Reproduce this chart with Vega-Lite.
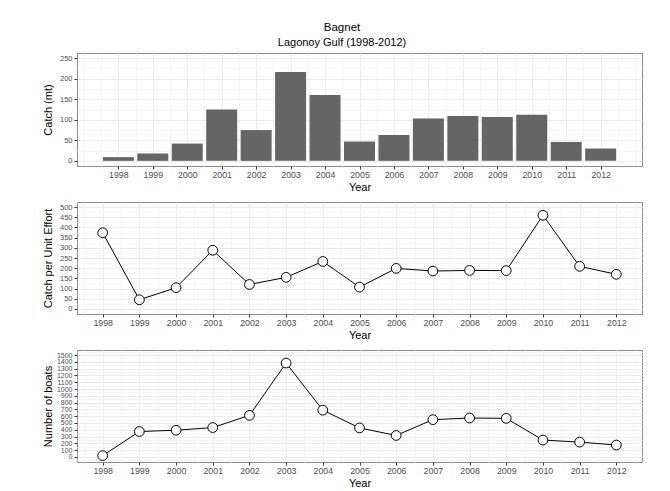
{
  "$schema": "https://vega.github.io/schema/vega-lite/v6.json",
  "padding": {"left": 41, "top": 22, "right": 5, "bottom": 0},
  "background": "white",
  "bounds": "flush",
  "config": {
    "font": "Liberation Sans",
    "view": {"stroke": "#8c8c8c", "strokeWidth": 1},
    "axis": {
      "domain": false,
      "tickColor": "#333333",
      "tickSize": 3,
      "labelColor": "#4d4d4d",
      "labelFontSize": 8.8,
      "titleFontSize": 11,
      "titleFontWeight": "normal",
      "titleColor": "#000000",
      "labelOverlap": false,
      "labelFlush": false
    },
    "title": {"fontSize": 11.5, "fontWeight": "normal", "subtitleFontSize": 11, "subtitleColor": "#000000", "color": "#000000", "subtitlePadding": 3, "offset": 5}
  },
  "title": {"text": "Bagnet", "subtitle": "Lagonoy Gulf (1998-2012)", "anchor": "middle"},
  "datasets": {
    "bagnet": [
      {"year": 1998, "catch": 9, "cpue": 374, "boats": 19},
      {"year": 1999, "catch": 18, "cpue": 45, "boats": 374},
      {"year": 2000, "catch": 42, "cpue": 104, "boats": 393},
      {"year": 2001, "catch": 125, "cpue": 288, "boats": 432},
      {"year": 2002, "catch": 75, "cpue": 120, "boats": 612},
      {"year": 2003, "catch": 216, "cpue": 155, "boats": 1383},
      {"year": 2004, "catch": 160, "cpue": 233, "boats": 689},
      {"year": 2005, "catch": 47, "cpue": 107, "boats": 427},
      {"year": 2006, "catch": 63, "cpue": 199, "boats": 316},
      {"year": 2007, "catch": 103, "cpue": 186, "boats": 549},
      {"year": 2008, "catch": 109, "cpue": 189, "boats": 573},
      {"year": 2009, "catch": 107, "cpue": 188, "boats": 568},
      {"year": 2010, "catch": 112, "cpue": 460, "boats": 248},
      {"year": 2011, "catch": 46, "cpue": 209, "boats": 218},
      {"year": 2012, "catch": 30, "cpue": 170, "boats": 175}
    ]
  },
  "spacing": 36,
  "vconcat": [
    {
      "width": 565,
      "height": 113,
      "data": {"name": "bagnet"},
      "mark": {"type": "bar", "width": 31, "color": "#656565"},
      "encoding": {
        "x": {
          "field": "year", "type": "quantitative",
          "scale": {"domain": [1996.8, 2013.2], "nice": false, "zero": false, "padding": 0},
          "axis": {
            "title": "Year",
            "values": [1997, 1997.5, 1998, 1998.5, 1999, 1999.5, 2000, 2000.5, 2001, 2001.5, 2002, 2002.5, 2003, 2003.5, 2004, 2004.5, 2005, 2005.5, 2006, 2006.5, 2007, 2007.5, 2008, 2008.5, 2009, 2009.5, 2010, 2010.5, 2011, 2011.5, 2012, 2012.5, 2013],
            "labelExpr": "(datum.value % 1 === 0 && datum.value >= 1998 && datum.value <= 2012) ? toString(datum.value) : ''",
            "gridColor": {"condition": {"test": "datum.value % 1 === 0 && datum.value >= 1998 && datum.value <= 2012", "value": "#ebebeb"}, "value": "#f5f5f5"},
            "tickOpacity": {"condition": {"test": "datum.value % 1 === 0 && datum.value >= 1998 && datum.value <= 2012", "value": 1}, "value": 0},
            "labelPadding": 1,
            "titlePadding": 3
          }
        },
        "y": {
          "field": "catch", "type": "quantitative",
          "scale": {"domain": [-12.5, 262.5], "nice": false, "zero": false, "padding": 0},
          "axis": {
            "title": "Catch (mt)",
            "values": [0, 25, 50, 75, 100, 125, 150, 175, 200, 225, 250],
            "labelExpr": "datum.value % 50 === 0 ? toString(datum.value) : ''",
            "gridColor": {"condition": {"test": "datum.value % 50 === 0", "value": "#ebebeb"}, "value": "#f5f5f5"},
            "tickOpacity": {"condition": {"test": "datum.value % 50 === 0", "value": 1}, "value": 0},
            "labelFontSize": 7.5,
            "labelPadding": 2,
            "titleX": -24
          }
        }
      }
    },
    {
      "width": 565,
      "height": 112,
      "data": {"name": "bagnet"},
      "encoding": {
        "x": {
          "field": "year", "type": "quantitative",
          "scale": {"domain": [1997.3, 2012.7], "nice": false, "zero": false},
          "axis": {
            "title": "Year",
            "values": [1997.5, 1998, 1998.5, 1999, 1999.5, 2000, 2000.5, 2001, 2001.5, 2002, 2002.5, 2003, 2003.5, 2004, 2004.5, 2005, 2005.5, 2006, 2006.5, 2007, 2007.5, 2008, 2008.5, 2009, 2009.5, 2010, 2010.5, 2011, 2011.5, 2012, 2012.5],
            "labelExpr": "(datum.value % 1 === 0) ? toString(datum.value) : ''",
            "gridColor": {"condition": {"test": "datum.value % 1 === 0", "value": "#ebebeb"}, "value": "#f5f5f5"},
            "tickOpacity": {"condition": {"test": "datum.value % 1 === 0", "value": 1}, "value": 0},
            "labelPadding": 1,
            "titlePadding": 3
          }
        },
        "y": {
          "field": "cpue", "type": "quantitative",
          "scale": {"domain": [-25, 525], "nice": false, "zero": false},
          "axis": {
            "title": "Catch per Unit Effort",
            "values": [0, 25, 50, 75, 100, 125, 150, 175, 200, 225, 250, 275, 300, 325, 350, 375, 400, 425, 450, 475, 500],
            "labelExpr": "datum.value % 50 === 0 ? toString(datum.value) : ''",
            "gridColor": {"condition": {"test": "datum.value % 50 === 0", "value": "#ebebeb"}, "value": "#f5f5f5"},
            "tickOpacity": {"condition": {"test": "datum.value % 50 === 0", "value": 1}, "value": 0},
            "labelFontSize": 7.5,
            "labelPadding": 2,
            "titleX": -24
          }
        }
      },
      "layer": [
        {"mark": {"type": "line", "color": "#000000", "strokeWidth": 1}},
        {"mark": {"type": "point", "filled": true, "fill": "white", "stroke": "#000000", "strokeWidth": 1, "size": 95, "opacity": 1}}
      ]
    },
    {
      "width": 565,
      "height": 112,
      "data": {"name": "bagnet"},
      "encoding": {
        "x": {
          "field": "year", "type": "quantitative",
          "scale": {"domain": [1997.3, 2012.7], "nice": false, "zero": false},
          "axis": {
            "title": "Year",
            "values": [1997.5, 1998, 1998.5, 1999, 1999.5, 2000, 2000.5, 2001, 2001.5, 2002, 2002.5, 2003, 2003.5, 2004, 2004.5, 2005, 2005.5, 2006, 2006.5, 2007, 2007.5, 2008, 2008.5, 2009, 2009.5, 2010, 2010.5, 2011, 2011.5, 2012, 2012.5],
            "labelExpr": "(datum.value % 1 === 0) ? toString(datum.value) : ''",
            "gridColor": {"condition": {"test": "datum.value % 1 === 0", "value": "#ebebeb"}, "value": "#f5f5f5"},
            "tickOpacity": {"condition": {"test": "datum.value % 1 === 0", "value": 1}, "value": 0},
            "labelPadding": 1,
            "titlePadding": 3
          }
        },
        "y": {
          "field": "boats", "type": "quantitative",
          "scale": {"domain": [-75, 1575], "nice": false, "zero": false},
          "axis": {
            "title": "Number of boats",
            "values": [-50, 0, 50, 100, 150, 200, 250, 300, 350, 400, 450, 500, 550, 600, 650, 700, 750, 800, 850, 900, 950, 1000, 1050, 1100, 1150, 1200, 1250, 1300, 1350, 1400, 1450, 1500, 1550],
            "labelExpr": "(datum.value % 100 === 0 && datum.value >= 0) ? toString(datum.value) : ''",
            "gridColor": {"condition": {"test": "datum.value % 100 === 0 && datum.value >= 0", "value": "#ebebeb"}, "value": "#f5f5f5"},
            "tickOpacity": {"condition": {"test": "datum.value % 100 === 0 && datum.value >= 0", "value": 1}, "value": 0},
            "labelFontSize": 7,
            "labelPadding": 2,
            "labelBaseline": "middle",
            "titleX": -24
          }
        }
      },
      "layer": [
        {"mark": {"type": "line", "color": "#000000", "strokeWidth": 1}},
        {"mark": {"type": "point", "filled": true, "fill": "white", "stroke": "#000000", "strokeWidth": 1, "size": 95, "opacity": 1}}
      ]
    }
  ]
}
